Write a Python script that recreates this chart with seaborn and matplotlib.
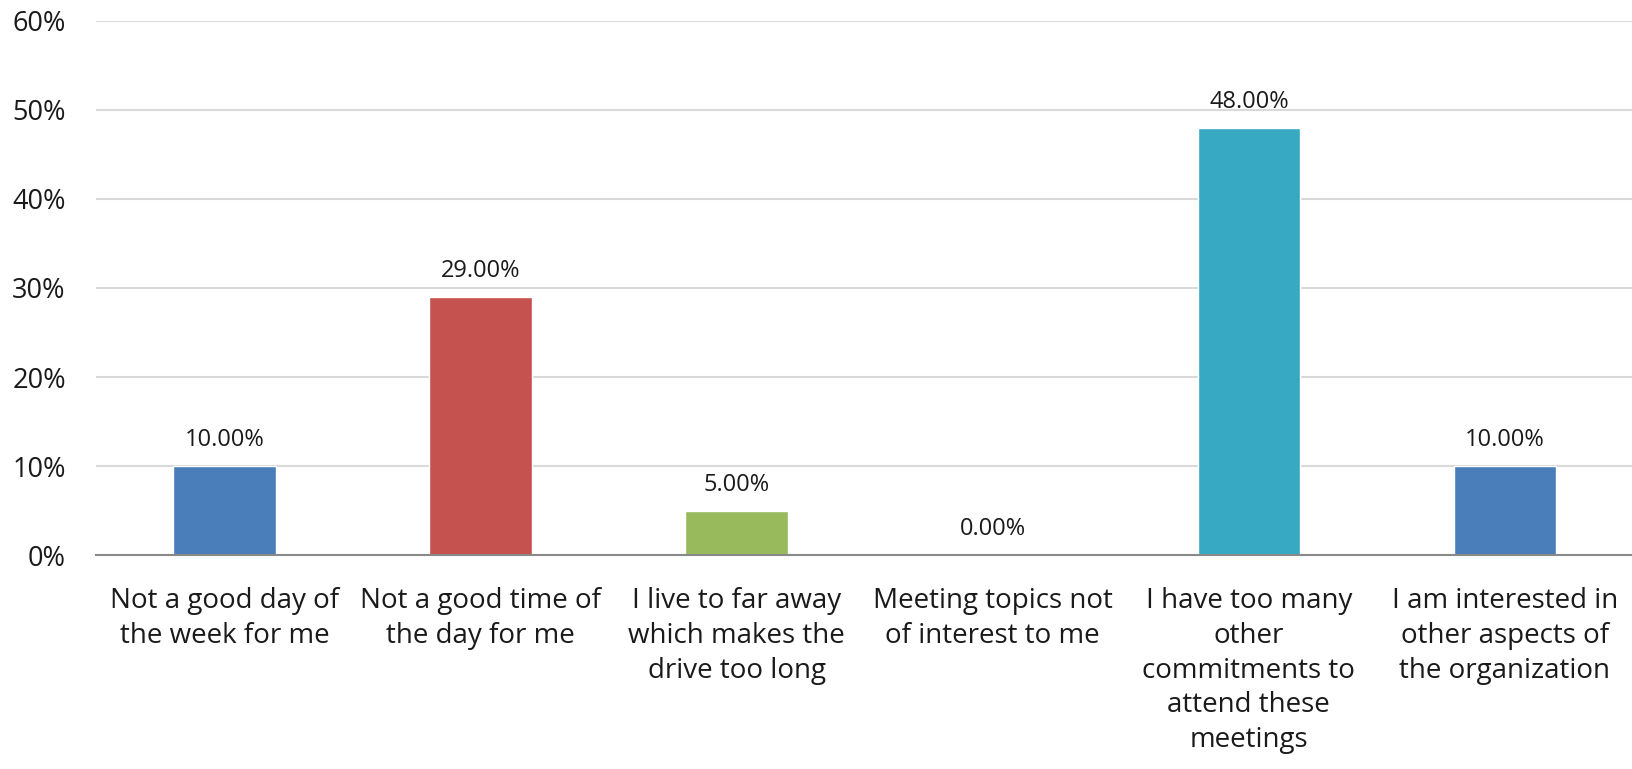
import numpy as np
import pandas as pd
import seaborn as sns
import matplotlib.pyplot as plt
from matplotlib.ticker import PercentFormatter

# chart data
categories = [
    "Not a good day of\nthe week for me",
    "Not a good time of\nthe day for me",
    "I live to far away\nwhich makes the\ndrive too long",
    "Meeting topics not\nof interest to me",
    "I have too many\nother\ncommitments to\nattend these\nmeetings",
    "I am interested in\nother aspects of\nthe organization",
]
values = [10.0, 29.0, 5.0, 0.0, 48.0, 10.0]
colors = ["#4A7EBB", "#C65250", "#98BA5C", "#4A7EBB", "#37A9C3", "#4A7EBB"]

df = pd.DataFrame({"reason": categories, "pct": values})

sns.set_style("white")
plt.rcParams["font.family"] = ["Open Sans", "DejaVu Sans"]

fig, ax = plt.subplots(figsize=(16.33, 7.69), dpi=100)
fig.subplots_adjust(left=0.059, right=1.0, top=0.973, bottom=0.278)

sns.barplot(data=df, x="reason", y="pct", hue="reason", palette=colors,
            legend=False, width=0.4, saturation=1, ax=ax)

ax.set_ylim(0, 60)
ax.set_xlim(-0.5, 5.5)
ax.set_yticks(np.arange(0, 61, 10))
ax.yaxis.set_major_formatter(PercentFormatter(decimals=0))
ax.grid(axis="y", color="#d9d9d9", linewidth=1.5)
ax.set_axisbelow(True)
for side in ["top", "right", "left"]:
    ax.spines[side].set_visible(False)
ax.spines["bottom"].set_color("#898989")
ax.spines["bottom"].set_linewidth(1.5)
ax.tick_params(axis="y", length=0, labelsize=19.5, pad=22, labelcolor="#1a1a1a")
ax.tick_params(axis="x", length=0, labelsize=20, pad=23, labelcolor="#1a1a1a")
for lbl in ax.get_xticklabels():
    lbl.set_linespacing(1.32)
ax.set_xlabel("")
ax.set_ylabel("")

for i, v in enumerate(values):
    ax.annotate(f"{v:.2f}%", (i, v), xytext=(0, 10), textcoords="offset points",
                ha="center", va="bottom", fontsize=17, color="#1a1a1a")

plt.savefig("out.png")
